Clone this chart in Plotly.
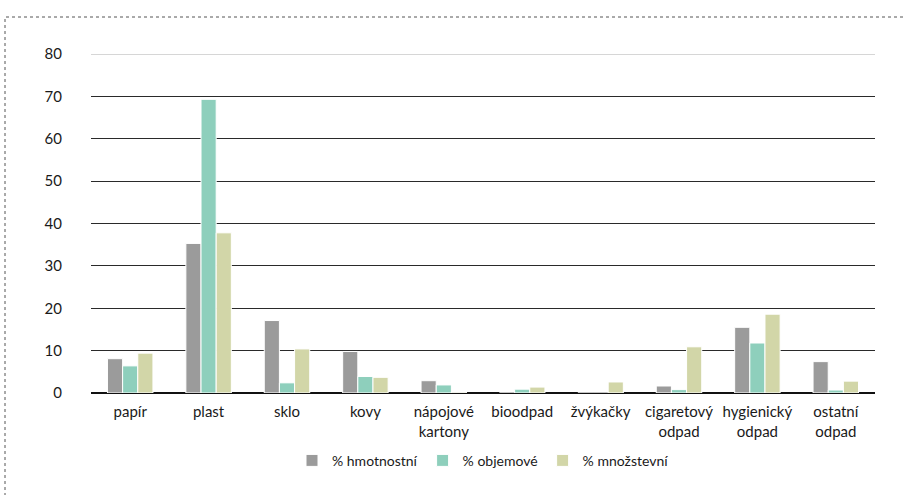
import plotly.graph_objects as go

categories = ["papír", "plast", "sklo", "kovy", "nápojové<br>kartony", "bioodpad",
              "žvýkačky", "cigaretový<br>odpad", "hygienický<br>odpad", "ostatní<br>odpad"]
hmotnostni = [8.1, 35.3, 17.1, 9.8, 2.9, 0.0, 0.0, 1.65, 15.5, 7.4]
objemove = [6.4, 69.3, 2.4, 3.9, 1.9, 0.9, 0.0, 0.8, 11.8, 0.7]
mnozstevni = [9.4, 37.8, 10.4, 3.7, 0.2, 1.4, 2.6, 10.9, 18.6, 2.8]
series_names = ["% hmotnostní", "% objemové", "% množstevní"]
colors = ["#9B9B9B", "#8ECFBC", "#D2D6A8"]
y_ticks = [0, 10, 20, 30, 40, 50, 60, 70, 80]

fig = go.Figure()
for name, vals, col in zip(series_names, [hmotnostni, objemove, mnozstevni], colors):
    fig.add_trace(go.Bar(x=categories, y=vals, name=name, marker_color=col,
                         marker_line_color="white", marker_line_width=1))

W, H = 905, 495
ml, mr, mt, mb = 91, 30, 54, 102
pw, ph = W - ml - mr, H - mt - mb

fig.update_layout(
    width=W, height=H,
    margin=dict(l=ml, r=mr, t=mt, b=mb),
    paper_bgcolor="white", plot_bgcolor="white",
    barmode="group", bargap=0.42, bargroupgap=0,
    font=dict(family="Lato, Open Sans, sans-serif", size=15, color="#1a1a1a"),
    legend=dict(orientation="h", x=0.5, xanchor="center", y=-0.2, yanchor="middle",
                font=dict(size=14), itemwidth=30, traceorder="normal"),
    showlegend=True,
)
fig.update_xaxes(showgrid=False, showline=False, ticks="", tickfont=dict(size=15),
                 ticklabelstandoff=8)
fig.update_yaxes(range=[0, 80], tickvals=y_ticks, showgrid=True, gridcolor="#2a2a2a",
                 gridwidth=1.3, zeroline=True, zerolinecolor="#111111", zerolinewidth=1.6,
                 showline=False, ticks="", ticklabelstandoff=28, tickfont=dict(size=15))

# lighter top gridline
fig.add_shape(type="line", xref="paper", yref="y", x0=0, x1=1, y0=y_ticks[-1], y1=y_ticks[-1],
              line=dict(color="#C8C8C8", width=1.3), layer="above")

# dotted chart border
fig.add_shape(type="rect", xref="paper", yref="paper",
              x0=(5 - ml) / pw, x1=(W + 5 - ml) / pw,
              y0=-(mb + 20) / ph, y1=1 + (mt - 17) / ph,
              line=dict(color="#555555", width=1, dash="dot"), layer="above")

fig.write_html("out.html")
